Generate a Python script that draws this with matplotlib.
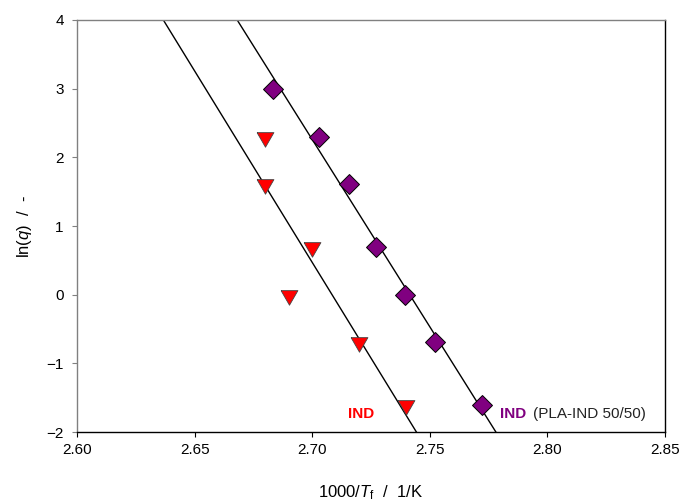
import matplotlib

matplotlib.use("Agg")
import matplotlib.pyplot as plt
import numpy as np

plt.rcParams["font.family"] = ["Liberation Sans", "DejaVu Sans"]
plt.rcParams["mathtext.fontset"] = "custom"
plt.rcParams["mathtext.rm"] = "Liberation Sans"
plt.rcParams["mathtext.it"] = "Liberation Sans:italic"

# crystallisation data: ln of cooling rate q against 1000/T_f
ind_x = [2.680, 2.680, 2.700, 2.690, 2.720, 2.740]
ind_q = [10, 5, 2, 1, 0.5, 0.2]
blend_x = [2.6834, 2.7029, 2.7157, 2.7273, 2.7396, 2.7522, 2.7723]
blend_q = [20, 10, 5, 2, 1, 0.5, 0.2]

# fitted lines, given as x where they cross y = 4 and y = -2
fit_y = [4, -2]
ind_fit_x = [2.6367, 2.7443]
blend_fit_x = [2.6681, 2.7781]

xticks = [2.60, 2.65, 2.70, 2.75, 2.80, 2.85]
yticks = [-2, -1, 0, 1, 2, 3, 4]

RED = "#ff0000"
PURPLE = "#800080"
GREY = "#808080"

# down-pointing triangle centred on its centroid
tri = [(-1.0, 0.577), (1.0, 0.577), (0.0, -1.155), (-1.0, 0.577)]

fig = plt.figure(figsize=(6.84, 5.01), dpi=100)
ax = fig.add_axes([0.1126, 0.1377, 0.8596, 0.8224])

ax.plot(ind_fit_x, fit_y, color="black", lw=1.0, zorder=2)
ax.plot(blend_fit_x, fit_y, color="black", lw=1.0, zorder=2)

ax.plot(ind_x, np.log(ind_q), ls="none", marker=tri, ms=14, mfc=RED,
        mec="#444444", mew=0.6, zorder=3)
ax.plot(blend_x, np.log(blend_q), ls="none", marker="D", ms=9.8, mfc=PURPLE,
        mec="black", mew=0.7, zorder=3)

ax.text(2.7209, -1.74, "IND", color=RED, fontsize=11, fontweight="bold",
        ha="center", va="center")
ax.text(2.7797, -1.74, "IND", color=PURPLE, fontsize=11, fontweight="bold",
        ha="left", va="center")
ax.text(2.7938, -1.74, "(PLA-IND 50/50)", color="#222222", fontsize=11,
        ha="left", va="center")

ax.set_xlim(2.60, 2.85)
ax.set_ylim(-2, 4)
ax.set_xticks(xticks)
ax.set_xticklabels([f"{v:.2f}" for v in xticks])
ax.set_yticks(yticks)

for side in ("top", "left"):
    ax.spines[side].set_color(GREY)
for side in ("bottom", "right"):
    ax.spines[side].set_color("black")
for sp in ax.spines.values():
    sp.set_linewidth(1.0)

ax.tick_params(axis="x", direction="out", length=3.5, width=0.8,
               labelsize=11, pad=4.5, colors="black")
ax.tick_params(axis="y", direction="out", length=3.5, width=0.8,
               labelsize=11, pad=6, color=GREY, labelcolor="black")

ax.set_xlabel("1000/$T_\\mathrm{f}$  /  1/K", fontsize=12, labelpad=19)
ax.set_ylabel("ln($q$)  /  -", fontsize=12, labelpad=9)

fig.savefig("out.png", dpi=100)
